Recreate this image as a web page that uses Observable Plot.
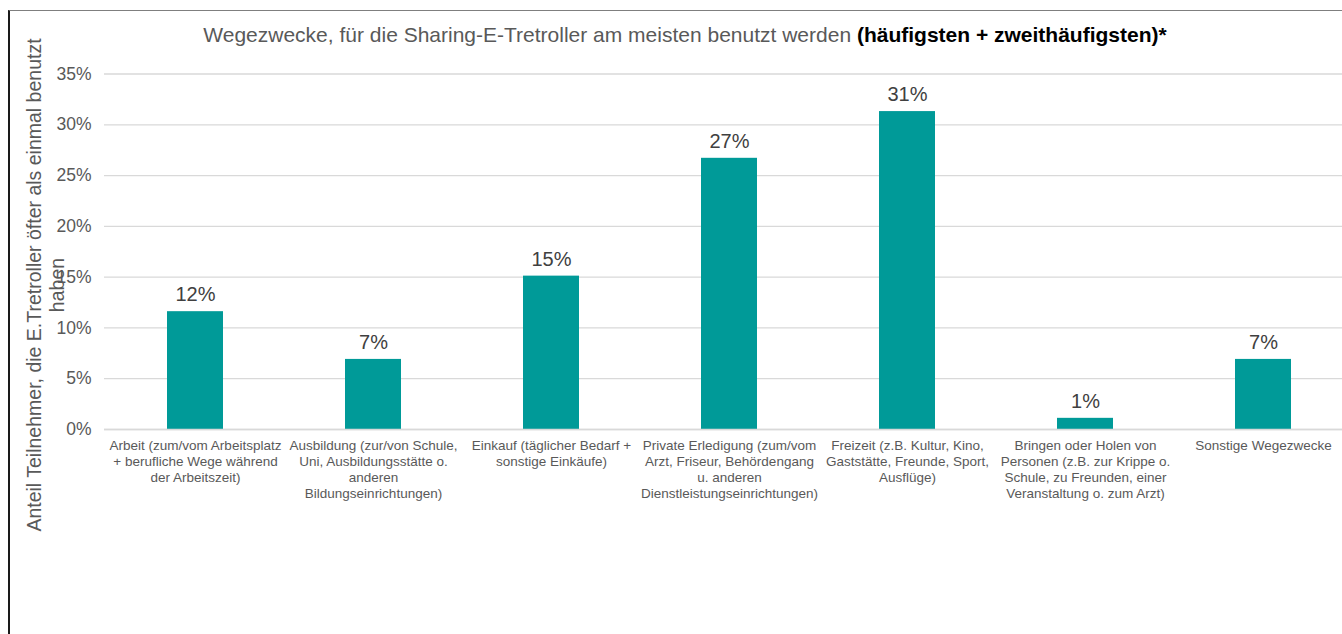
<!DOCTYPE html>
<html>
<head>
<meta charset="utf-8">
<script src="https://cdn.jsdelivr.net/npm/d3@7"></script>
<script src="https://cdn.jsdelivr.net/npm/@observablehq/plot@0.6"></script>
<style>
  html, body { margin: 0; padding: 0; background: #fff; }
  #wrap { position: relative; width: 1342px; height: 634px; overflow: hidden; font-family: "Liberation Sans", Arial, sans-serif; }
  #frame { position: absolute; left: 8px; top: 10px; right: -5px; bottom: -5px; border-top: 1px solid #7f7f7f; border-left: 2px solid #1a1a1a; pointer-events: none; }
  #title { position: absolute; top: 23px; left: 0; width: 1370px; text-align: center; font-size: 21px; color: #595959; white-space: nowrap; }
  #title b { color: #000; }
  #ylab { position: absolute; left: 46px; top: 285px; transform: translate(-50%, -50%) rotate(-90deg); font-size: 19.5px; color: #595959; text-align: center; line-height: 23px; white-space: nowrap; }
  #chart { position: absolute; left: 0; top: 0; }
</style>
</head>
<body>
<div id="wrap">
  <div id="chart"></div>
  <div id="title">Wegezwecke, für die Sharing-E-Tretroller am meisten benutzt werden <b>(häufigsten + zweithäufigsten)*</b></div>
  <div id="ylab">Anteil Teilnehmer, die E.Tretroller öfter als einmal benutzt<br>haben</div>
  <div id="frame"></div>
</div>
<script>
const categories = [
  "Arbeit",
  "Ausbildung",
  "Einkauf",
  "Private Erledigung",
  "Freizeit",
  "Bringen oder Holen von Personen",
  "Sonstige Wegezwecke"
];
const tickLabels = [
  "Arbeit (zum/vom Arbeitsplatz\n+ berufliche Wege während\nder Arbeitszeit)",
  "Ausbildung (zur/von Schule,\nUni, Ausbildungsstätte o.\nanderen\nBildungseinrichtungen)",
  "Einkauf (täglicher Bedarf +\nsonstige Einkäufe)",
  "Private Erledigung (zum/vom\nArzt, Friseur, Behördengang\nu. anderen\nDienstleistungseinrichtungen)",
  "Freizeit (z.B. Kultur, Kino,\nGaststätte, Freunde, Sport,\nAusflüge)",
  "Bringen oder Holen von\nPersonen (z.B. zur Krippe o.\nSchule, zu Freunden, einer\nVeranstaltung o. zum Arzt)",
  "Sonstige Wegezwecke"
];
const shares = [11.6, 6.9, 15.1, 26.7, 31.3, 1.1, 6.9];
const yTicks = [0, 5, 10, 15, 20, 25, 30, 35];

const data = categories.map((c, i) => ({cat: c, value: shares[i], label: tickLabels[i]}));
const labelOf = new Map(categories.map((c, i) => [c, tickLabels[i]]));

const chart = Plot.plot({
  width: 1342,
  height: 634,
  marginLeft: 104,
  marginRight: -12,
  marginTop: 73.5,
  marginBottom: 205,
  style: {fontFamily: "'Liberation Sans', Arial, sans-serif", background: "transparent"},
  x: {domain: categories, paddingInner: 0.686, paddingOuter: 0.343, label: null},
  y: {domain: [0, 35], label: null},
  marks: [
    Plot.gridY(yTicks, {stroke: "#d9d9d9", strokeOpacity: 1, strokeWidth: 1.3}),
    Plot.barY(data, {x: "cat", y: "value", fill: "#009a98"}),
    Plot.ruleY([0], {stroke: "#d9d9d9", strokeWidth: 1.6}),
    Plot.text(data, {x: "cat", y: "value", text: d => Math.round(d.value) + "%", dy: -17, fontSize: 20, fill: "#404040"}),
    Plot.axisY({ticks: yTicks, tickSize: 0, tickPadding: 13, tickFormat: d => d + "%", fontSize: 17.5, fill: "#595959"}),
    Plot.axisX({tickSize: 0, tickPadding: 9, tickFormat: d => labelOf.get(d), fontSize: 13.5, fill: "#595959", lineHeight: 1.185})
  ]
});
document.getElementById("chart").appendChild(chart);
</script>
</body>
</html>
